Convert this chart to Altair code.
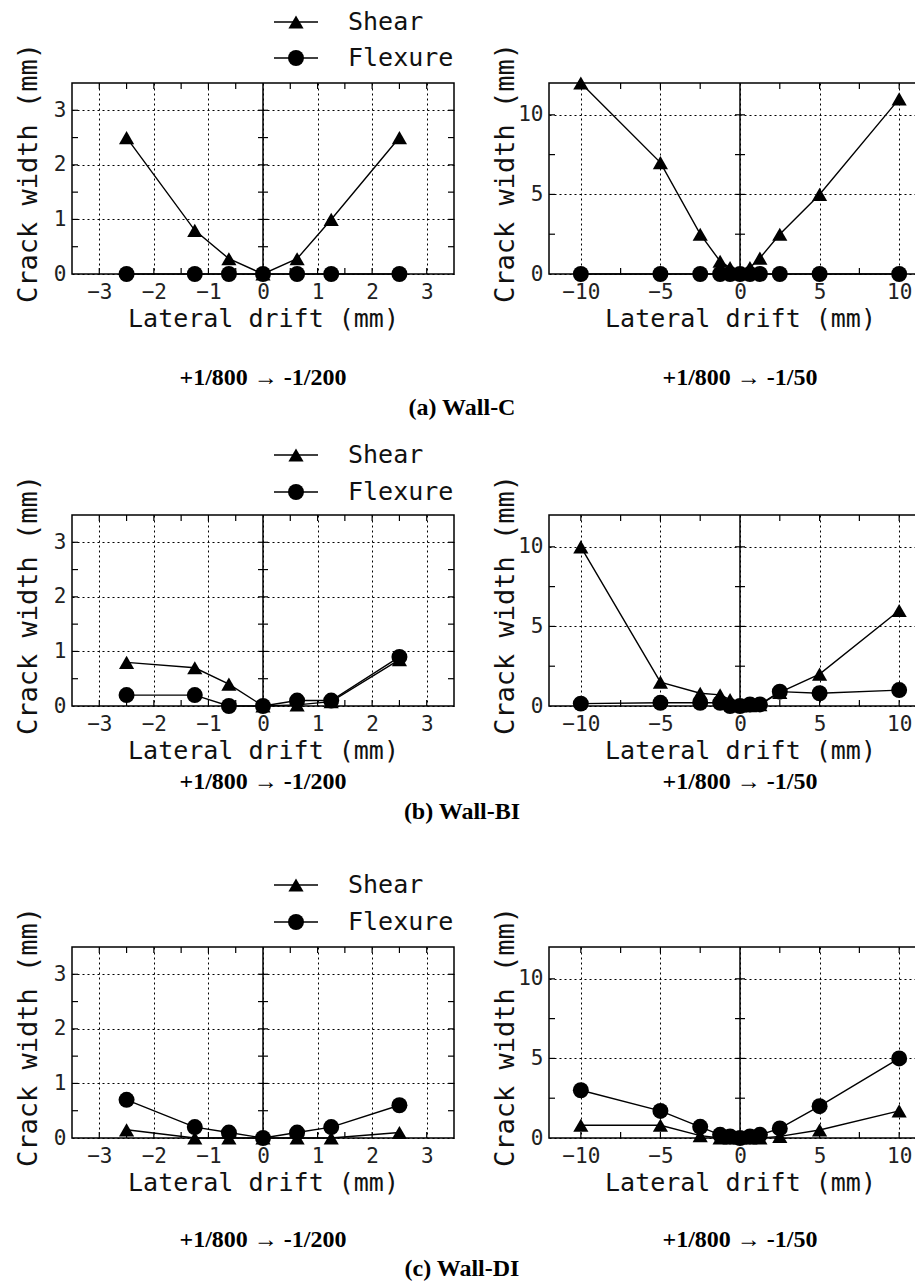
import altair as alt
import pandas as pd

# ---------------- data ----------------
series_names = ["Shear", "Flexure"]
series_shapes = ["triangle-up", "circle"]

drift_small = [-2.5, -1.25, -0.625, 0, 0.625, 1.25, 2.5]
drift_large = [-10, -5, -2.5, -1.25, -0.625, 0, 0.625, 1.25, 2.5, 5, 10]

# (a) Wall-C
a_small_shear = [2.5, 0.8, 0.28, 0, 0.28, 1.0, 2.5]
a_small_flex = [0, 0, 0, 0, 0, 0, 0]
a_large_shear = [12, 7, 2.5, 0.8, 0.4, 0, 0.4, 1.0, 2.5, 5, 11]
a_large_flex = [0, 0, 0, 0, 0, 0, 0, 0, 0, 0, 0]

# (b) Wall-BI
b_small_shear = [0.8, 0.7, 0.4, 0, 0.02, 0.08, 0.85]
b_small_flex = [0.2, 0.2, 0.0, 0, 0.1, 0.1, 0.9]
b_large_shear = [10, 1.5, 0.8, 0.7, 0.4, 0, 0.02, 0.08, 0.85, 2, 6]
b_large_flex = [0.15, 0.2, 0.2, 0.2, 0.0, 0, 0.1, 0.1, 0.9, 0.8, 1.0]

# (c) Wall-DI
c_small_shear = [0.15, 0, 0, 0, 0, 0, 0.1]
c_small_flex = [0.7, 0.2, 0.1, 0, 0.1, 0.2, 0.6]
c_large_shear = [0.8, 0.8, 0.15, 0, 0, 0, 0, 0, 0.1, 0.5, 1.7]
c_large_flex = [3, 1.7, 0.7, 0.2, 0.1, 0, 0.1, 0.2, 0.6, 2, 5]

small_x_labels = [-3, -2, -1, 0, 1, 2, 3]
small_y_labels = [0, 1, 2, 3]
small_x_minor = [-3, -2.5, -2, -1.5, -1, -0.5, 0.5, 1, 1.5, 2, 2.5, 3]
small_y_minor = [0.5, 1, 1.5, 2, 2.5, 3]

large_x_labels = [-10, -5, 0, 5, 10]
large_y_labels = [0, 5, 10]
large_x_minor = [-10, -7.5, -5, -2.5, 2.5, 5, 7.5, 10]
large_y_minor = [2.5, 5, 7.5, 10]

range_captions = ["+1/800 → -1/200", "+1/800 → -1/50"]
wall_captions = ["(a) Wall-C", "(b) Wall-BI", "(c) Wall-DI"]

x_title = "Lateral drift (mm)"
y_title = "Crack width (mm)"

# ---------------- style ----------------
W = 382
H = 191
SANS = "DejaVu Sans Mono"
SERIF = "Liberation Serif"
INK = "#111"
SIZES = [230, 255]


def panel(xv, shear, flex, xdom, ydom, xlab, ylab, xmin, ymin, caption,
          legend=False, wall=None, cap_dy=105, wall_dy=135, leg_y=(-61, -24)):
    n = len(xv)
    df = pd.DataFrame({
        "drift": list(xv) * 2,
        "width": list(shear) + list(flex),
        "series": ["Shear"] * n + ["Flexure"] * n,
    })
    xs = alt.Scale(domain=xdom, nice=False, zero=False)
    ys = alt.Scale(domain=ydom, nice=False, zero=False)
    xaxis = alt.Axis(values=xlab, title=x_title, grid=True, gridDash=[2, 3],
                     gridColor="black", gridWidth=1, ticks=False, domain=False,
                     labelFont=SANS, labelFontSize=21, labelColor="#222",
                     labelPadding=7, titleFont=SANS, titleFontSize=25,
                     titleFontWeight="normal", titleColor=INK,
                     titleX=W / 2, titleY=44, titleBaseline="middle",
                     titleAlign="center")
    yaxis = alt.Axis(values=ylab, title=y_title, grid=True, gridDash=[2, 3],
                     gridColor="black", gridWidth=1, ticks=False, domain=False,
                     labelFont=SANS, labelFontSize=21, labelColor="#222",
                     labelPadding=6, titleFont=SANS, titleFontSize=27,
                     titleFontWeight="normal", titleColor=INK,
                     titleX=-44, titleY=H / 2 - 6, titleBaseline="middle",
                     titleAlign="center")

    def X(f):
        return alt.X(f, scale=xs, axis=xaxis)

    def Y(f):
        return alt.Y(f, scale=ys, axis=yaxis)

    base = alt.Chart(df)
    lines = base.mark_line(color="black", strokeWidth=1.4).encode(
        x=X("drift:Q"), y=Y("width:Q"), detail="series:N")
    pts = base.mark_point(filled=True, color="black", opacity=1).encode(
        x=X("drift:Q"), y=Y("width:Q"),
        shape=alt.Shape("series:N", scale=alt.Scale(domain=series_names, range=series_shapes), legend=None),
        size=alt.Size("series:N", scale=alt.Scale(domain=series_names, range=SIZES), legend=None),
    )
    xt = pd.DataFrame({"drift": xmin})
    yt = pd.DataFrame({"width": ymin, "drift": [0] * len(ymin)})
    tick_style = dict(color="black", strokeWidth=1.2)
    top_t = alt.Chart(xt).mark_rule(**tick_style).encode(
        x=X("drift:Q"), y=alt.value(0), y2=alt.value(6))
    bot_t = alt.Chart(xt).mark_rule(**tick_style).encode(
        x=X("drift:Q"), y=alt.value(H - 6), y2=alt.value(H))
    left_t = alt.Chart(yt).mark_rule(**tick_style).encode(
        y=Y("width:Q"), x=alt.value(0), x2=alt.value(6))
    right_t = alt.Chart(yt).mark_rule(**tick_style).encode(
        y=Y("width:Q"), x=alt.value(W - 6), x2=alt.value(W))
    mid_t = alt.Chart(yt).mark_rule(xOffset=-5, x2Offset=5, **tick_style).encode(
        y=Y("width:Q"), x=X("drift:Q"), x2="drift:Q")
    center = alt.Chart(pd.DataFrame({"drift": [0]})).mark_rule(color="black", strokeWidth=1.5).encode(
        x=X("drift:Q"))
    cap = alt.Chart(pd.DataFrame({"label": [caption]})).mark_text(
        font=SERIF, fontWeight="bold", fontSize=24, color="black").encode(
        x=alt.value(W / 2), y=alt.value(H + cap_dy), text="label:N")
    layers = [lines, center, top_t, bot_t, left_t, right_t, mid_t, pts, cap]
    if legend:
        for i, (name, shp) in enumerate(zip(series_names, series_shapes)):
            ld = pd.DataFrame({"series": [name]})
            yy = leg_y[i]
            layers.append(alt.Chart(ld).mark_rule(color="black", strokeWidth=1.4).encode(
                x=alt.value(202), x2=alt.value(246), y=alt.value(yy)))
            layers.append(alt.Chart(ld).mark_point(filled=True, color="black", opacity=1,
                                                   shape=shp, size=SIZES[i]).encode(
                x=alt.value(224), y=alt.value(yy)))
            layers.append(alt.Chart(ld).mark_text(font=SANS, fontSize=25, align="left",
                                                  baseline="middle", color=INK).encode(
                x=alt.value(276), y=alt.value(yy), text="series:N"))
    if wall:
        layers.append(alt.Chart(pd.DataFrame({"label": [wall]})).mark_text(
            font=SERIF, fontWeight="bold", fontSize=24, color="black").encode(
            x=alt.value(390), y=alt.value(H + wall_dy), text="label:N"))
    return alt.layer(*layers).properties(width=W, height=H)


row_specs = [
    (a_small_shear, a_small_flex, a_large_shear, a_large_flex, wall_captions[0], 104, 134, (-61, -25)),
    (b_small_shear, b_small_flex, b_large_shear, b_large_flex, wall_captions[1], 76, 106, (-60, -23)),
    (c_small_shear, c_small_flex, c_large_shear, c_large_flex, wall_captions[2], 102, 131, (-62, -25)),
]

panels = []
for sm_s, sm_f, lg_s, lg_f, wall, cdy, wdy, ly in row_specs:
    panels.append(panel(drift_small, sm_s, sm_f, [-3.5, 3.5], [0, 3.5],
                        small_x_labels, small_y_labels, small_x_minor, small_y_minor,
                        range_captions[0], legend=True, wall=wall, cap_dy=cdy,
                        wall_dy=wdy, leg_y=ly))
    panels.append(panel(drift_large, lg_s, lg_f, [-12, 12], [0, 12],
                        large_x_labels, large_y_labels, large_x_minor, large_y_minor,
                        range_captions[1], cap_dy=cdy))

chart = alt.concat(
    *panels, columns=2, spacing={"row": 241, "column": 95}, bounds="flush"
).properties(
    padding={"left": 5, "top": 1, "right": -18, "bottom": 5},
).configure_view(stroke="black", strokeWidth=1.5)

chart.save("out.html", embed_options={"renderer": "svg", "actions": False})
